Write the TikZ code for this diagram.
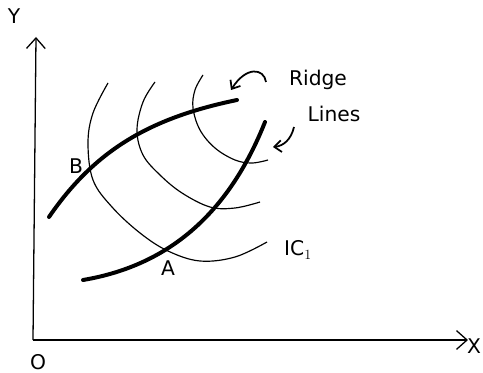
\documentclass[tikz,border=0pt]{standalone}
\usepackage{fontspec}
\setmainfont{DejaVu Sans}
\usetikzlibrary{arrows.meta,positioning}

\begin{document}
\begin{tikzpicture}[
            x=0.03cm, y=-0.03cm,
            font=\LARGE,
            axis/.style={line width=1.1pt, -{Straight Barb[length=9pt,width=16pt]}},
            ridge/.style={line width=3.4pt, line cap=round},
            icurve/.style={line width=1pt},
            pointer/.style={line width=1.5pt, -{Straight Barb[length=6pt,width=10pt]}},
            lbl/.style={inner sep=1pt}
        ]
        \useasboundingbox (0,0) rectangle (483,373);

        % Assi
        \coordinate (O) at (33,340);
        \coordinate (ytop) at (36,37);
        \coordinate (xend) at (468,340);
        \draw [axis] (O) -- (ytop);
        \draw [axis] (O) -- (xend);
        \node (ylab) [lbl] at (14,16) {Y};
        \node (xlab) [lbl] at (474,346) {X};
        \node (olab) [lbl] at (38,362) {O};

        % Curve di indifferenza
        \draw [icurve] plot[smooth, tension=0.6] coordinates {(108,83) (93,113) (88,143) (93,180) (112,207) (140,233) (168,251) (200,261) (235,257) (267,242)};
        \draw [icurve] plot[smooth, tension=0.6] coordinates {(155,82) (143,102) (137,130) (143,155) (160,175) (182,193) (210,207) (235,208) (260,202)};
        \draw [icurve] plot[smooth, tension=0.6] coordinates {(203,75) (195,90) (193,108) (200,130) (215,148) (235,160) (252,163) (268,160)};

        % Punti
        \coordinate (ptA) at (168,252);
        \coordinate (ptB) at (89,166);

        % Ridge lines
        \draw [ridge] (49,217) .. controls (95,150) and (150,118) .. (237,100);
        \draw [ridge] (83,280) .. controls (172,265) and (230,210) .. (265,122);

        \node (labA) [lbl, below=6pt of ptA] {A};
        \node (labB) [lbl, left=4pt of ptB] {B};

        % Etichette
        \node (ridgelab) [lbl] at (318,80) {Ridge};
        \node (lineslab) [lbl] at (334,114) {Lines};
        \node (iclab) [lbl] at (298,250) {IC$_1$};

        % Frecce
        \coordinate (arr1s) at (266,82);
        \coordinate (arr1e) at (231,90);
        \coordinate (arr2s) at (294,127);
        \coordinate (arr2e) at (273,147);
        \draw [pointer] (arr1s) .. controls (264,68) and (246,66) .. (arr1e);
        \draw [pointer] (arr2s) .. controls (291,140) and (283,146) .. (arr2e);

    \end{tikzpicture}
\end{document}
